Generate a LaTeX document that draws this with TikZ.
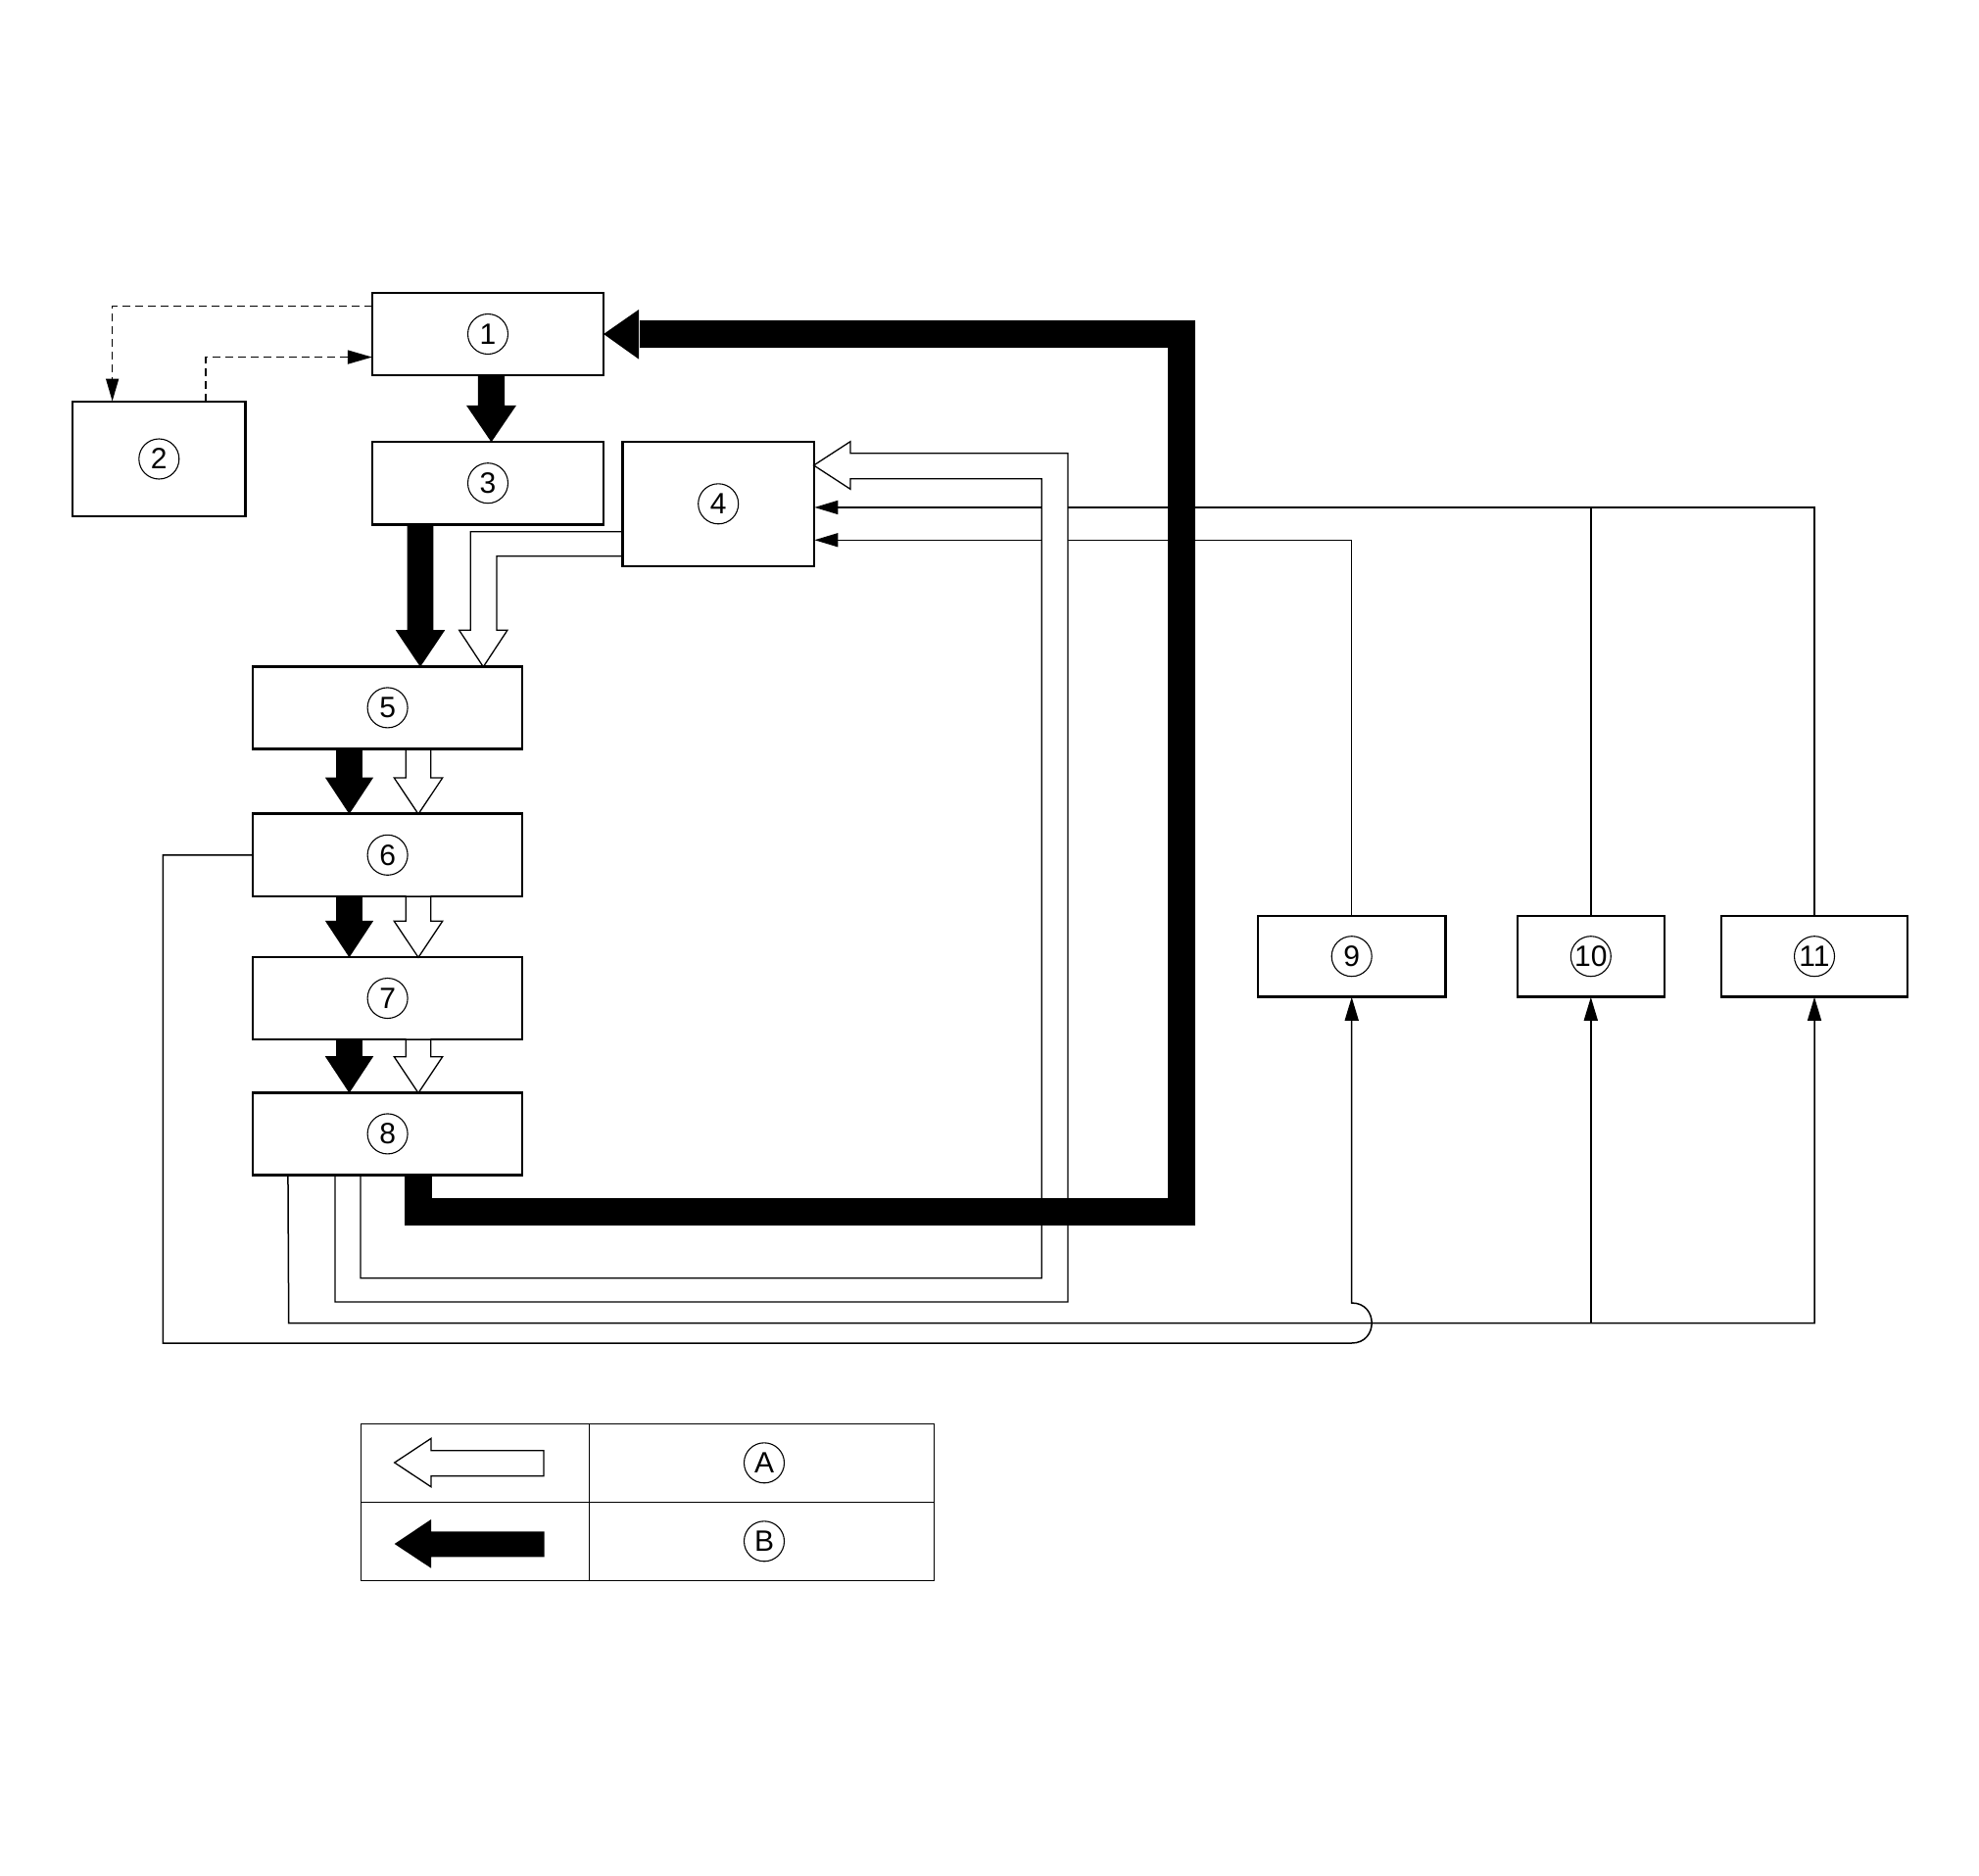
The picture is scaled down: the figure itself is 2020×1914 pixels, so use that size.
\documentclass[tikz,border=0pt]{standalone}
\usepackage{fontspec}
\setmainfont{Liberation Sans}
\usetikzlibrary{arrows.meta,calc}
\tikzset{
  box/.style={draw, line width=1.5pt, fill=white, inner sep=0pt},
  num/.style={circle, draw, line width=1.1pt, inner sep=0pt, minimum size=41pt, font=\fontsize{30}{32}\selectfont},
  thinline/.style={line width=1.5pt},
  tipA/.style={-{Triangle[length=24pt,width=14pt]}},
  tipD/.style={-{Triangle[length=23pt,width=13pt]}},
  dashline/.style={dash pattern=on 8pt off 5pt},
  openarr/.style={fill=white, draw=black, line width=1.3pt, line join=miter},
}
\newcommand\blkdown[5]{% cx, ytop, ytip, shaft half, head half
  \fill (#1-#4,#2) -- (#1-#4,#3-37.5) -- (#1-#5,#3-37.5) -- (#1,#3) -- (#1+#5,#3-37.5) -- (#1+#4,#3-37.5) -- (#1+#4,#2) -- cycle;}
\newcommand\opndown[2]{% ytop, ytip ; cx = 427
  \filldraw[openarr] (414.3,#1) -- (414.3,#2-37) -- (402.3,#2-37) -- (427,#2) -- (451.7,#2-37) -- (439.7,#2-37) -- (439.7,#1);}
\begin{document}
\begin{tikzpicture}[x=1pt,y=-1pt]
\useasboundingbox (0,0) rectangle (2020,1914);

% boxes
\node[box, minimum width=234.7pt, minimum height=83.4pt] (b1) at (498,341) {};
\node[box, minimum width=175.4pt, minimum height=116.4pt] (b2) at (162.3,468.5) {};
\node[box, minimum width=234.7pt, minimum height=83.7pt] (b3) at (498,493.2) {};
\node[box, minimum width=194.8pt, minimum height=126pt] (b4) at (733.2,514.3) {};
\node[box, minimum width=273.8pt, minimum height=83.3pt] (b5) at (395.6,722.4) {};
\node[box, minimum width=273.8pt, minimum height=83.7pt] (b6) at (395.6,872.8) {};
\node[box, minimum width=273.8pt, minimum height=83.4pt] (b7) at (395.6,1019) {};
\node[box, minimum width=273.8pt, minimum height=83.3pt] (b8) at (395.6,1157.4) {};
\node[box, minimum width=190.7pt, minimum height=81.7pt] (b9) at (1379.7,976.2) {};
\node[box, minimum width=149pt, minimum height=81.7pt] (b10) at (1623.8,976.2) {};
\node[box, minimum width=189.4pt, minimum height=81.7pt] (b11) at (1852,976.2) {};

% named points
\coordinate (r1) at ($(b4.north east)+(0,67.4)$);
\coordinate (r2) at ($(b4.north east)+(0,100.7)$);
\coordinate (p8a) at ($(b8.south west)+(36,0)$);
\coordinate (bot1) at (294.7,1350.7);

% dashed connectors between 1 and 2
\draw[thinline, dashline, tipD] ($(b1.north west)+(0,14)$) -| ($(b2.north west)+(40.8,0)$);
\draw[thinline, dashline, -{Triangle[length=25pt,width=14pt]}] ($(b2.north west)+(135.9,0)$) |- ($(b1.north west)+(0,66)$);

% thin connectors on the right
\draw[thinline, tipA] (b11.north) |- (r1);
\draw[thinline] (b10.north) -- (b10.north |- r1);
\draw[thinline, tipA] (b9.north) |- (r2);

% thin connectors at the bottom
\draw[thinline, tipA] (p8a) -- (bot1) -| (b11.south);
\draw[thinline, tipA] (b10.south |- bot1) -- (b10.south);
\draw[thinline, tipA] (b6.west) -| (166.3,1371) -- (1379.7,1371)
  .. controls (1407,1371) and (1407,1330) .. (1379.7,1330) -- (b9.south);

% open (hollow) arrows
\filldraw[openarr] (342,1199) -- (342,1329) -- (1090,1329) -- (1090,462.7) -- (868,462.7)
  -- (868,450.7) -- (830.6,475) -- (868,499.3) -- (868,488.7) -- (1063.3,488.7)
  -- (1063.3,1304.7) -- (368,1304.7) -- (368,1199);
\filldraw[openarr] (635.8,542.7) -- (480.2,542.7) -- (480.2,643.3) -- (468.7,643.3)
  -- (493.3,680.7) -- (517.9,643.3) -- (507,643.3) -- (507,567.7) -- (635.8,567.7);
\opndown{764}{831}
\opndown{914.7}{977.3}
\opndown{1060.7}{1115.7}

% black arrows
\blkdown{501.5}{382.7}{451.3}{13.7}{25.5}
\blkdown{429}{535}{680.7}{13.4}{25.2}
\blkdown{356.5}{764}{831}{13.4}{24.7}
\blkdown{356.5}{914.7}{977.3}{13.4}{24.7}
\blkdown{356.5}{1060.7}{1115.7}{13.4}{24.7}

% big feedback band 8 -> 1
\draw[line width=28pt, line join=miter] (426.7,1199) -- (426.7,1236.7) -- (1206.4,1236.7) -- (1206.4,341.3) -- (652.5,341.3);
\fill (652,316) -- (b1.east) -- (652,366.6) -- cycle;

% re-stroke box borders
\foreach \b in {b1,b2,b3,b4,b5,b6,b7,b8,b9,b10,b11}
  \draw[line width=1.5pt] (\b.south west) rectangle (\b.north east);

% labels
\node[num] (n1) at (b1) {1};
\node[num] (n2) at (b2) {2};
\node[num] (n3) at (b3) {3};
\node[num] (n4) at (b4) {4};
\node[num] (n5) at (b5) {5};
\node[num] (n6) at (b6) {6};
\node[num] (n7) at (b7) {7};
\node[num] (n8) at (b8) {8};
\node[num] (n9) at (b9) {9};
\node[num] (n10) at (b10) {10};
\node[num] (n11) at (b11) {11};

% legend
\draw[line width=1.5pt] (368.3,1453.3) rectangle (953.3,1613.3);
\draw[line width=1.5pt] (601.7,1453.3) -- (601.7,1613.3);
\draw[line width=1.5pt] (368.3,1533.3) -- (953.3,1533.3);
\filldraw[openarr] (555,1480.7) -- (440,1480.7) -- (440,1468.3) -- (402.7,1493) -- (440,1517.7) -- (440,1506.7) -- (555,1506.7) -- cycle;
\fill (555.7,1563.3) -- (440,1563.3) -- (440,1551) -- (402.7,1576) -- (440,1600.7) -- (440,1589.3) -- (555.7,1589.3) -- cycle;
\node[num] (la) at (780,1493.3) {A};
\node[num] (lb) at (780,1573.3) {B};
\end{tikzpicture}
\end{document}
